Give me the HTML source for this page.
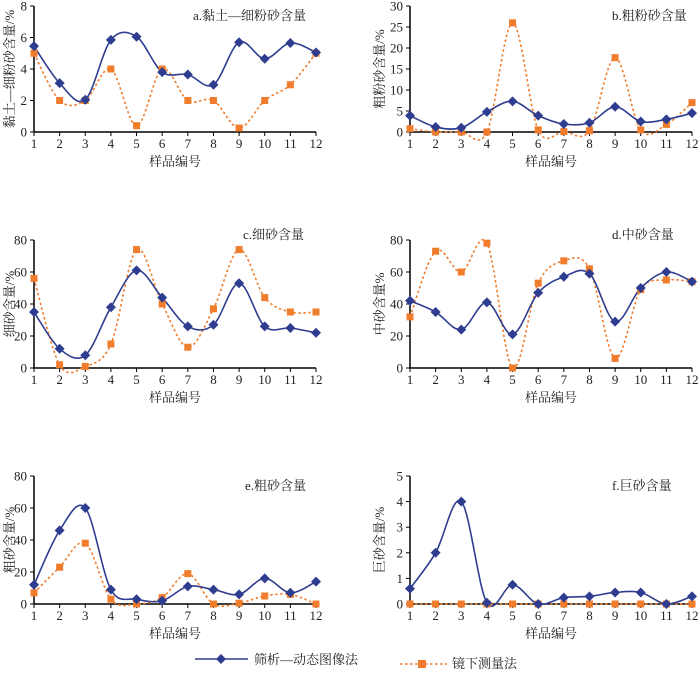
<!DOCTYPE html>
<html><head><meta charset="utf-8">
<style>
body{margin:0;background:#fff;}
svg{display:block;font-family:"Liberation Serif","Noto Serif CJK SC",serif;}
</style></head>
<body>
<svg id="chart" width="700" height="673" viewBox="0 0 700 673" xmlns="http://www.w3.org/2000/svg"></svg>
<script>
const categories = [1,2,3,4,5,6,7,8,9,10,11,12];
const aSieve = [5.45,3.1,2.05,5.85,6.05,3.8,3.65,3.0,5.7,4.65,5.65,5.05];
const aMicro = [5.0,2.0,2.0,4.0,0.4,4.0,2.0,2.0,0.25,2.0,3.0,5.0];
const bSieve = [3.9,1.2,1.0,4.8,7.3,3.9,1.9,2.2,6.0,2.5,3.0,4.5];
const bMicro = [0.8,0,0,0,26,0.5,0.1,0.3,17.7,0.5,1.8,7.0];
const cSieve = [35,12,8,38,61,44,26,27,53,26,25,22];
const cMicro = [56,2,1,15,74,40,13,37,74,44,35,35];
const dSieve = [42,35,24,41,21,47,57,59,29,50,60,54];
const dMicro = [32,73,60,78,0,53,67,62,6,49,55,54];
const eSieve = [12,46,60,9,3,2,11,9,6,16,7,14];
const eMicro = [7,23,38,3,0,4,19,0,0.5,5,6,0];
const fSieve = [0.6,2.0,4.0,0.05,0.75,0,0.25,0.3,0.45,0.45,0,0.3];
const fMicro = [0,0,0,0,0,0,0,0,0,0,0,0];
const aTicks = [0,2,4,6,8];
const bTicks = [0,5,10,15,20,25,30];
const cTicks = [0,20,40,60,80];
const dTicks = [0,20,40,60,80];
const eTicks = [0,20,40,60,80];
const fTicks = [0,1,2,3,4,5];

const NS="http://www.w3.org/2000/svg";
const svg=document.getElementById('chart');
function mk(tag,attrs,parent){const e=document.createElementNS(NS,tag);for(const k in attrs)e.setAttribute(k,attrs[k]);(parent||svg).appendChild(e);return e;}
function smooth(pts){
  let d=`M${pts[0][0]},${pts[0][1]}`;
  for(let i=0;i<pts.length-1;i++){
    const p0=pts[Math.max(0,i-1)],p1=pts[i],p2=pts[i+1],p3=pts[Math.min(pts.length-1,i+2)];
    const t=1/3;
    const c1=[p1[0]+(p2[0]-p0[0])*t/2,p1[1]+(p2[1]-p0[1])*t/2];
    const c2=[p2[0]-(p3[0]-p1[0])*t/2,p2[1]-(p3[1]-p1[1])*t/2];
    d+=` C${c1[0]},${c1[1]} ${c2[0]},${c2[1]} ${p2[0]},${p2[1]}`;
  }
  return d;
}
const panels=[
 {id:'a',x0:34,top:6,bot:132,ticks:aTicks,s:aSieve,m:aMicro,title:'a.黏土—细粉砂含量',tx:193,ty:20,ylab:'黏土—细粉砂含量/%',ylx:10},
 {id:'b',x0:410,top:6,bot:132,ticks:bTicks,s:bSieve,m:bMicro,title:'b.粗粉砂含量',tx:612,ty:20,ylab:'粗粉砂含量/%',ylx:380},
 {id:'c',x0:34,top:240,bot:368,ticks:cTicks,s:cSieve,m:cMicro,title:'c.细砂含量',tx:243,ty:239,ylab:'细砂含量/%',ylx:10},
 {id:'d',x0:410,top:240,bot:368,ticks:dTicks,s:dSieve,m:dMicro,title:'d.中砂含量',tx:612,ty:239,ylab:'中砂含量%',ylx:380},
 {id:'e',x0:34,top:476,bot:604,ticks:eTicks,s:eSieve,m:eMicro,title:'e.粗砂含量',tx:245,ty:490,ylab:'粗砂含量/%',ylx:10},
 {id:'f',x0:410,top:476,bot:604,ticks:fTicks,s:fSieve,m:fMicro,title:'f.巨砂含量',tx:612,ty:490,ylab:'巨砂含量/%',ylx:380}
];
panels.forEach(p=>{
  const g=mk('g',{});
  
  
  const W=282, step=W/(categories.length-1);
  const xs=i=>p.x0+i*step;
  const max=p.ticks[p.ticks.length-1];
  const ys=v=>p.bot-(v/max)*(p.bot-p.top);
  const ya=mk('line',{x1:p.x0,y1:p.top,x2:p.x0,y2:p.bot,stroke:'#000','stroke-width':1.5},g);
  
  
  const xa=mk('line',{x1:p.x0,y1:p.bot,x2:p.x0+W,y2:p.bot,stroke:'#000','stroke-width':1.5},g);
  
  
  p.ticks.forEach(t=>{
    mk('line',{x1:p.x0-4,y1:ys(t),x2:p.x0,y2:ys(t),stroke:'#000'},g);
    const tl=mk('text',{x:p.x0-7,y:ys(t)+4.5,'text-anchor':'end','font-size':13,fill:'#222'},g);
    tl.textContent=t;
    
    
  });
  categories.forEach((c,i)=>{
    mk('line',{x1:xs(i),y1:p.bot,x2:xs(i),y2:p.bot+4,stroke:'#000'},g);
    const tl=mk('text',{x:xs(i),y:p.bot+16,'text-anchor':'middle','font-size':13,fill:'#222'},g);
    tl.textContent=c;
    
    
  });
  const xt=mk('text',{x:p.x0+W/2,y:p.bot+34,'text-anchor':'middle','font-size':13,fill:'#222'},g);
  xt.textContent='样品编号';
  
  
  const yt=mk('text',{x:0,y:0,'text-anchor':'middle','font-size':13,fill:'#222',transform:`translate(${p.ylx+4},${(p.top+p.bot)/2}) rotate(-90)`},g);
  yt.textContent=p.ylab;
  
  
  const tt=mk('text',{x:p.tx,y:p.ty,'font-size':13,fill:'#222'},g);
  tt.textContent=p.title;
  
  
  const mp=p.m.map((v,i)=>[xs(i),ys(v)]);
  const ml=mk('path',{d:smooth(mp),fill:'none',stroke:'#f07c2c','stroke-width':1.6,'stroke-dasharray':'2.5,2.5'},g);
  
  
  const sp=p.s.map((v,i)=>[xs(i),ys(v)]);
  const sl=mk('path',{d:smooth(sp),fill:'none',stroke:'#2e3d8f','stroke-width':1.6},g);
  
  
  mp.forEach(pt=>{
    const r=mk('rect',{x:pt[0]-3.5,y:pt[1]-3.5,width:7,height:7,fill:'#f07c2c'},g);
    
    
  });
  sp.forEach(pt=>{
    const r=mk('path',{d:`M${pt[0]},${pt[1]-5} L${pt[0]+5},${pt[1]} L${pt[0]},${pt[1]+5} L${pt[0]-5},${pt[1]} Z`,fill:'#2e3d8f'},g);
    
    
  });
});
const lg=mk('g',{});


const l1=mk('g',{},lg);


mk('line',{x1:195,y1:659,x2:248,y2:659,stroke:'#2e3d8f','stroke-width':1.6},l1);
mk('path',{d:'M221,654 L226,659 L221,664 L216,659 Z',fill:'#2e3d8f'},l1);
const t1=mk('text',{x:254,y:664,'font-size':13,fill:'#222'},l1);t1.textContent='筛析—动态图像法';
const l2=mk('g',{},lg);


mk('line',{x1:400,y1:664,x2:447,y2:664,stroke:'#f07c2c','stroke-width':1.6,'stroke-dasharray':'2.5,2.5'},l2);
mk('rect',{x:418,y:660,width:8,height:8,fill:'#f07c2c'},l2);
const t2=mk('text',{x:452,y:668,'font-size':13,fill:'#222'},l2);t2.textContent='镜下测量法';
</script>
</body></html>
